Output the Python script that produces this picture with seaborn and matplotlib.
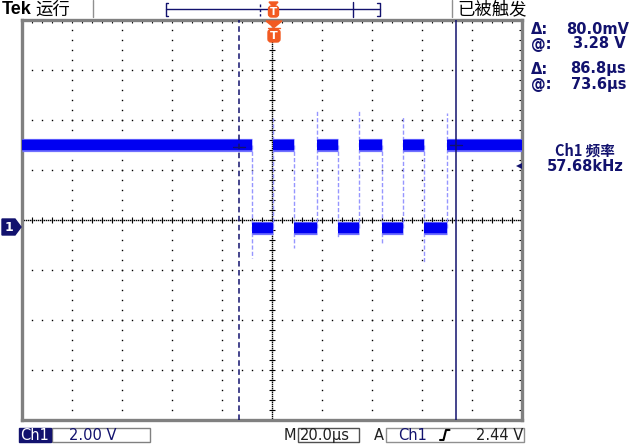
import numpy as np
import pandas as pd
import matplotlib
matplotlib.use('Agg')
from matplotlib import pyplot as plt
from matplotlib.patches import Rectangle, Polygon, FancyBboxPatch
import seaborn as sns

# scope settings
volts_per_div = 2.0
us_per_div = 20.0
ground_offset = 0.28   # volts at the centre graticule line (ground marker sits a bit lower)

# waveform (time in us from trigger, volts)
high_level = 3.28
low_level = -0.04
edge_times = [-8.1, 0.3, 8.8, 17.9, 26.3, 34.8, 43.9, 52.4, 60.8, 69.9]
spike_levels = [-1.24, 4.36, -0.84, 4.68, -0.40, 4.64, -0.72, 4.40, -1.40, 4.56]

# cursors / trigger
cursor_times = [-13.2, 73.6]
cursor_levels = [3.20, 3.28]
trigger_level = 2.44

# readouts
readout_labels = ['Δ:', '@:', 'Δ:', '@:']
readout_values = ['80.0mV', '3.28 V', '86.8µs', '73.6µs']
freq_label = 'Ch1 频率'
freq_value = '57.68kHz'
ch_scale = '2.00 V'
time_scale = '20.0µs'
trig_source = 'Ch1'
trig_text = '2.44 V'

navy = '#12126e'
trace_blue = '#0000f2'
trace_light = '#7070ff'
edge_light = '#9696ff'
orange = '#f25a22'

sns.set_style('white')
plt.rcParams['font.family'] = ['DejaVu Sans', 'Noto Sans CJK SC']
plt.rcParams['lines.scale_dashes'] = False

W, H = 641, 444
fig = plt.figure(figsize=(W / 100, H / 100), dpi=100)
fig.patch.set_facecolor('white')
ax = fig.add_axes([22 / W, (H - 420) / H, 500 / W, 400 / H])

t_min, t_max = -5 * us_per_div, 5 * us_per_div
v_min = ground_offset - 4 * volts_per_div
v_max = ground_offset + 4 * volts_per_div
px_t = us_per_div / 50
px_v = volts_per_div / 50

# graticule dots
dot = dict(ls='none', marker='s', ms=1.0, mew=0, color='black', zorder=1)
vs = np.arange(v_min, v_max + 1e-9, 10 * px_v)
ts = np.arange(t_min, t_max + 1e-9, 10 * px_t)
for k in range(11):
    ax.plot(np.full_like(vs, t_min + k * us_per_div), vs, **dot)
for k in range(9):
    ax.plot(ts, np.full_like(ts, v_min + k * volts_per_div), **dot)
# centre cross: dense dots + ticks
ts2 = np.arange(t_min, t_max + 1e-9, 2 * px_t)
vs2 = np.arange(v_min, v_max + 1e-9, 2 * px_v)
ax.plot(ts2, np.full_like(ts2, ground_offset), **dot)
ax.plot(np.zeros_like(vs2), vs2, **dot)
ax.plot(ts, np.full_like(ts, ground_offset), ls='none', marker='|', ms=4, mew=0.8, color='black', zorder=1)
ax.plot(np.zeros_like(vs), vs, ls='none', marker='_', ms=4, mew=0.8, color='black', zorder=1)

# trace: flat segments
bounds = [t_min] + edge_times + [t_max]
rows = []
for i in range(len(bounds) - 1):
    lvl = high_level if i % 2 == 0 else low_level
    rows += [(i, bounds[i], lvl), (i, bounds[i + 1], lvl)]
flat = pd.DataFrame(rows, columns=['seg', 't', 'v'])

# trace: edges with overshoot
rows = []
for j, (te, sp) in enumerate(zip(edge_times, spike_levels)):
    start = high_level if j % 2 == 0 else low_level
    rows += [(j, te, start), (j, te, sp)]
edges = pd.DataFrame(rows, columns=['seg', 't', 'v'])

sns.lineplot(data=edges, x='t', y='v', units='seg', estimator=None, sort=False,
             color=edge_light, lw=1.0, ls=(0, (3, 1.5)), ax=ax, legend=False, zorder=3)
sns.lineplot(data=flat, x='t', y='v', units='seg', estimator=None, sort=False,
             color=trace_light, lw=9.5, solid_capstyle='butt', ax=ax, legend=False, zorder=4)
sns.lineplot(data=flat, x='t', y='v', units='seg', estimator=None, sort=False,
             color=trace_blue, lw=7.5, solid_capstyle='butt', ax=ax, legend=False, zorder=5)

# cursors
ax.axvline(cursor_times[0], color=navy, lw=1.1, ls=(0, (4, 2.5)), zorder=6)
ax.axvline(cursor_times[1], color=navy, lw=1.1, zorder=6)
for t, v in zip(cursor_times, cursor_levels):
    ax.plot([t - 6 * px_t, t + 6 * px_t], [v, v], color=navy, lw=1.0, zorder=7)
ax.plot(t_max - 3 * px_t, trigger_level, marker='<', ms=5, color=navy, mew=0, zorder=7)

ax.set_xlim(t_min, t_max)
ax.set_ylim(v_min, v_max)
ax.set_xlabel('')
ax.set_ylabel('')
ax.set_xticks(ts)
ax.set_yticks(vs)
ax.tick_params(direction='in', length=2.5, width=0.8, color='black',
               top=True, right=True, labelbottom=False, labelleft=False)
for s in ax.spines.values():
    s.set_color('#808080')
    s.set_linewidth(2.4)

# overlay in pixel coordinates for the screen furniture
ov = fig.add_axes([0, 0, 1, 1])
ov.set_xlim(0, W)
ov.set_ylim(H, 0)
ov.axis('off')
ov.patch.set_alpha(0)

cjk = ['Noto Sans CJK SC', 'DejaVu Sans']
fs = 10.5

# top bar
ov.text(2, 10, 'Tek', fontsize=13, fontweight='bold', family='Liberation Sans',
        ha='left', va='center', color='black')
ov.text(35, 9.5, '运行', fontsize=12.5, family=cjk, ha='left', va='center', color='black')
ov.plot([93, 93], [0, 17], color='#909090', lw=1)
ov.plot([452, 452], [0, 17], color='#909090', lw=1)
ov.text(457, 9.5, '已被触发', fontsize=12.5, family=cjk, ha='left', va='center', color='black')

ov.plot([168, 165.5, 165.5, 168], [3, 3, 16, 16], color=navy, lw=1)
ov.plot([377, 379.5, 379.5, 377], [3, 3, 16, 16], color=navy, lw=1)
ov.plot([165.5, 379.5], [9.5, 9.5], color=navy, lw=1)
ov.plot([260, 260], [4, 16], color=navy, lw=1, ls=(0, (2, 1.5)))
ov.plot([353, 353], [2, 17], color=navy, lw=1)

# trigger position markers
ov.add_patch(Polygon([[269, 2], [278, 2], [273.5, 7]], closed=True, color=orange, zorder=10))
ov.add_patch(FancyBboxPatch((268.5, 6), 10, 11, boxstyle='round,pad=0,rounding_size=3',
                            color=orange, zorder=10))
ov.text(273.5, 11.8, 'T', fontsize=7.5, fontweight='bold', color='white',
        ha='center', va='center', zorder=11)
ov.add_patch(Polygon([[266, 21], [282, 21], [274, 27.5]], closed=True, color=orange, zorder=10))
ov.plot([268, 280], [28.5, 28.5], color=orange, lw=1, zorder=10)
ov.add_patch(FancyBboxPatch((268, 29.5), 12, 12.5, boxstyle='round,pad=0,rounding_size=3',
                            color=orange, zorder=10))
ov.text(274, 35.8, 'T', fontsize=8, fontweight='bold', color='white',
        ha='center', va='center', zorder=11)

# ground marker
ov.add_patch(Polygon([[2, 219], [15, 219], [21, 227], [15, 235], [2, 235]], closed=True,
                     color=navy, zorder=10))
ov.text(9, 227.5, '1', fontsize=9, fontweight='bold', color='white', ha='center', va='center',
        zorder=11)

# right readouts
ys = [29, 44, 69, 85]
rights = [629, 626, 626, 626]
for lab, val, y, xr in zip(readout_labels, readout_values, ys, rights):
    ov.text(531, y, lab, fontsize=fs, fontweight='bold', color=navy, ha='left', va='center')
    ov.text(xr, y, val, fontsize=fs, fontweight='bold', color=navy, ha='right', va='center')
ov.text(585, 151, freq_label, fontsize=fs, fontweight='bold', color=navy, ha='center',
        va='center', family=cjk)
ov.text(585, 166, freq_value, fontsize=fs, fontweight='bold', color=navy, ha='center', va='center')

# bottom status bar
ov.add_patch(Rectangle((19, 427.5), 32, 14, color=navy, zorder=10))
ov.text(35, 435, 'Ch1', fontsize=fs, color='white', ha='center', va='center', zorder=11)
ov.add_patch(Rectangle((52, 427.5), 98, 14, fill=False, ec='#808080', lw=1))
ov.text(69, 435, ch_scale, fontsize=fs, color=navy, ha='left', va='center')
ov.text(284, 435, 'M', fontsize=fs, color='#202020', ha='left', va='center')
ov.add_patch(Rectangle((297.5, 427.5), 61, 14, fill=False, ec='#505050', lw=1))
ov.text(300, 435, time_scale, fontsize=fs, color='#202020', ha='left', va='center')
ov.text(374, 435, 'A', fontsize=fs, color='#202020', ha='left', va='center')
ov.add_patch(Rectangle((385.5, 427.5), 138, 14, fill=False, ec='#909090', lw=1))
ov.text(398, 435, trig_source, fontsize=fs, color=navy, ha='left', va='center')
ov.plot([440, 443.5, 446, 449.5], [440, 440, 430, 430], color='black', lw=1.5)
ov.text(523, 435, trig_text, fontsize=fs, color='#202020', ha='right', va='center')

fig.savefig('out.png', dpi=100, facecolor='white')
